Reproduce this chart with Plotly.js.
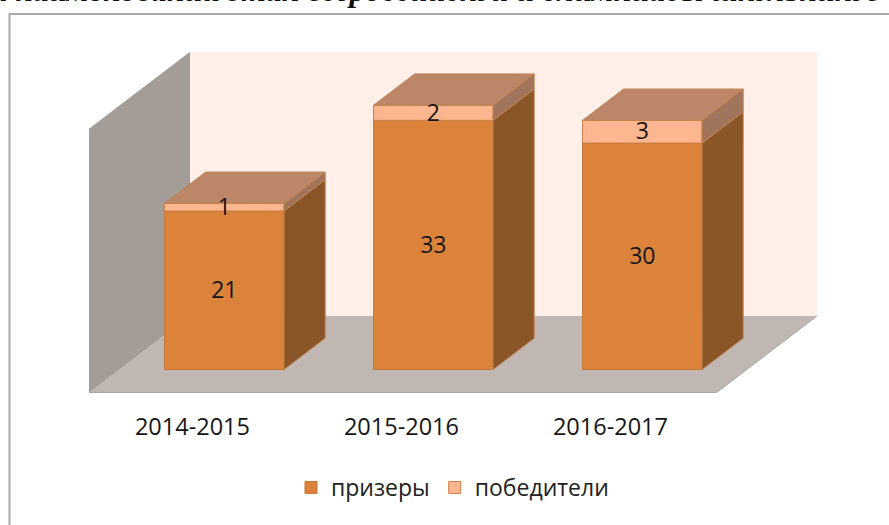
<!DOCTYPE html>
<html><head><meta charset="utf-8">
<script src="https://cdn.plot.ly/plotly-3.0.1.min.js"></script>
<style>html,body{margin:0;padding:0;background:#fff;overflow:hidden}#c{width:889px;height:525px}</style>
</head><body><div id="c"></div>
<script>
const categories = ['2014-2015','2015-2016','2016-2017'];
const prizeWinners = [21,33,30];
const winners = [1,2,3];
const prizeName = 'призеры';
const winnerName = 'победители';
const cutOffTitle = 'ских наименований этап всероссийской и олимпиады школьников';

const W=889,H=525,L=89,R=72,T=52,B=132;
const PX_X=209, PX_Y=7.55;
const DEPTH_X=101/PX_X, DEPTH_Y=77/PX_Y;   // oblique shift of the full floor depth
const wallTop=35, barW=119.5/PX_X, z0=0.305, z1=0.712;
const proj=(x,y,z)=>[x+z*DEPTH_X, y+z*DEPTH_Y];
const poly=pts=>{const p=pts.map(a=>proj(...a));p.push(p[0]);return {x:p.map(a=>a[0]),y:p.map(a=>a[1])};};
const pathOf=pts=>{const p=pts.map(a=>proj(...a));return 'M'+p.map(a=>a[0]+','+a[1]).join('L')+'Z';};
const xLo=-0.5,xHi=2.5;
const xRange=[xLo,xLo+(W-L-R)/PX_X], yRange=[0,(H-T-B)/PX_Y];
const px=v=>(v-L)/(W-L-R), py=v=>(H-B-v)/(H-T-B);
const labelDrop=2/PX_Y;

const colors={prize:'#DB833B',prizeLine:'#C4773A',win:'#FDB68F',winLine:'#C98049',
  prizeSide:'#8A5529',winSide:'#A0755B',top:'#BB8768',topLine:'#C0824F',
  wall:'#A39C97',back:'#FEEFE8',floor:'#C1B7B2',edge:'#A8A6A4',frame:'#A9A9A9',text:'#151515'};

const frontX=categories.map((_,i)=>proj(i,0,z0)[0]);
const baseY=proj(0,0,z0)[1];
const traces=[];
function face(pts,fill){
  const p=poly(pts);
  traces.push({type:'scatter',mode:'lines',x:p.x,y:p.y,fill:'toself',fillcolor:fill,
    line:{color:colors.topLine,width:1},hoverinfo:'skip',showlegend:false});
}
categories.forEach((_,i)=>{
  const a=i-barW/2,b=i+barW/2,h1=prizeWinners[i],h2=h1+winners[i];
  face([[b,0,z0],[b,0,z1],[b,h1,z1],[b,h1,z0]],colors.prizeSide);
  face([[b,h1,z0],[b,h1,z1],[b,h2,z1],[b,h2,z0]],colors.winSide);
  face([[a,h2,z0],[a,h2,z1],[b,h2,z1],[b,h2,z0]],colors.top);
});
traces.push({type:'bar',name:prizeName,x:frontX,y:prizeWinners,base:prizeWinners.map(()=>baseY),width:barW,
  marker:{color:colors.prize,line:{color:colors.prizeLine,width:1}},hoverinfo:'y'});
traces.push({type:'bar',name:winnerName,x:frontX,y:winners,base:prizeWinners.map(v=>v+baseY),width:barW,
  marker:{color:colors.win,line:{color:colors.winLine,width:1}},hoverinfo:'y'});
const labelFont={family:'Open Sans, sans-serif',size:23,color:colors.text};
traces.push({type:'scatter',mode:'text',x:frontX,y:prizeWinners.map(v=>baseY+v/2-labelDrop),text:prizeWinners.map(String),
  textposition:'middle center',textfont:labelFont,hoverinfo:'skip',showlegend:false,cliponaxis:false});
traces.push({type:'scatter',mode:'text',x:frontX,y:winners.map((v,i)=>baseY+prizeWinners[i]+v/2-labelDrop),text:winners.map(String),
  textposition:'middle center',textfont:labelFont,hoverinfo:'skip',showlegend:false,cliponaxis:false});

const xMax=xHi, shape=(pts,fill,line)=>({type:'path',layer:'below',xref:'x',yref:'y',path:pathOf(pts),fillcolor:fill,line:line||{width:0}});
const shapes=[
  shape([[xLo,0,1],[xMax,0,1],[xMax,wallTop,1],[xLo,wallTop,1]],colors.back),
  shape([[xLo,0,0],[xLo,0,1],[xLo,wallTop,1],[xLo,wallTop,0]],colors.wall),
  shape([[xLo,0,0],[xMax,0,0],[xMax,0,1],[xLo,0,1]],colors.floor),
  {type:'line',layer:'below',xref:'x',yref:'y',x0:xLo,y0:0,x1:xMax,y1:0,line:{color:colors.edge,width:2}},
  {type:'line',layer:'below',xref:'x',yref:'y',x0:xMax,y0:0,x1:proj(xMax,0,1)[0],y1:proj(xMax,0,1)[1],line:{color:colors.edge,width:1}},
  {type:'path',xref:'paper',yref:'paper',layer:'below',
   path:`M${px(9.5)},${py(530)}L${px(9.5)},${py(14)}L${px(895)},${py(14)}`,line:{color:colors.frame,width:2}}
];

const layout={width:W,height:H,margin:{l:L,r:R,t:T,b:B},paper_bgcolor:'#fff',plot_bgcolor:'rgba(0,0,0,0)',
  barmode:'overlay',showlegend:true,
  legend:{orientation:'h',x:px(291),xanchor:'left',y:py(466),yanchor:'top',
    font:{family:'Open Sans, sans-serif',size:23,color:'#222'},traceorder:'normal',bgcolor:'rgba(0,0,0,0)'},
  xaxis:{range:xRange,tickmode:'array',tickvals:categories.map((_,i)=>i-0.005),ticktext:categories,
    showgrid:false,zeroline:false,showline:false,ticks:'',ticklabelstandoff:17,
    tickfont:{family:'Open Sans, sans-serif',size:23.5,color:colors.text},fixedrange:true},
  yaxis:{range:yRange,showgrid:false,zeroline:false,showline:false,showticklabels:false,ticks:'',fixedrange:true},
  shapes:shapes,
  annotations:[{text:'<b><i>'+cutOffTitle+'</i></b>',xref:'paper',yref:'paper',x:px(411),y:py(9.5),xanchor:'center',yanchor:'bottom',
    showarrow:false,font:{family:'Liberation Serif, serif',size:32,color:'#111'}}]
};
Plotly.newPlot('c',traces,layout,{displayModeBar:false,staticPlot:true});
</script></body></html>
